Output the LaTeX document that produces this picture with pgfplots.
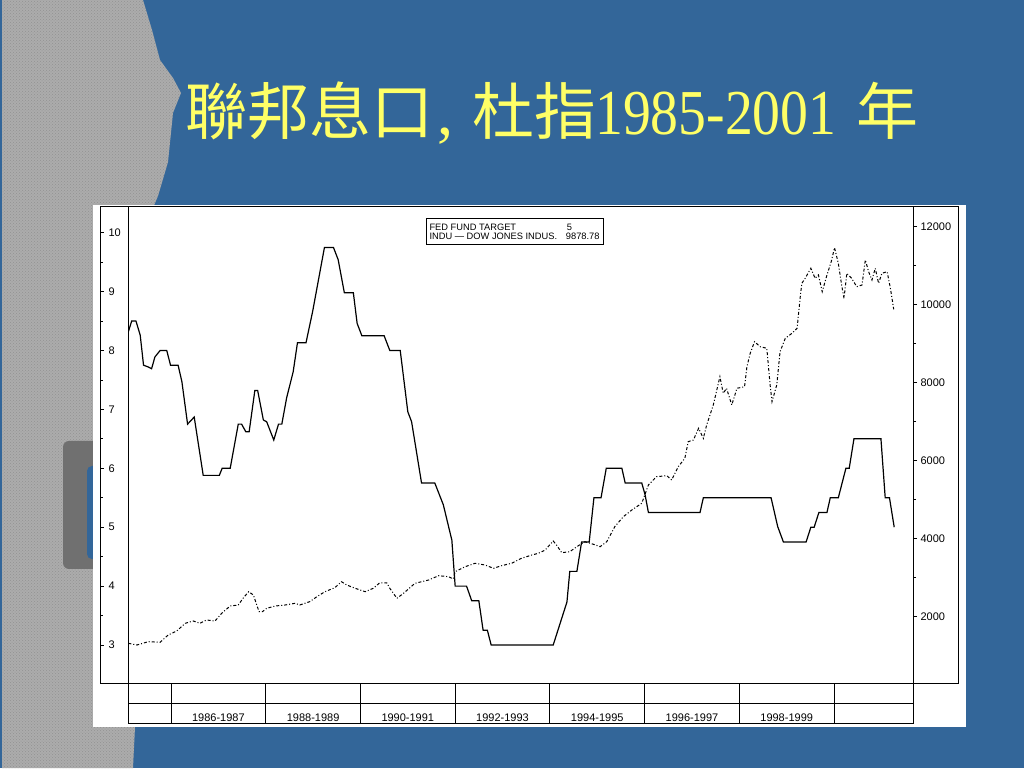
\documentclass[border=0pt]{standalone}
\usepackage{pgfplots}
\pgfplotsset{compat=1.18}
\usepackage{pgfplotstable}
\usetikzlibrary{patterns}
\usepackage{fontspec}
\setmainfont{Liberation Sans}
\newfontfamily\cjk{Noto Sans CJK TC}
\newfontfamily\titleserif{Liberation Serif}
\definecolor{slidebg}{RGB}{51,102,153}
\definecolor{titleyellow}{RGB}{255,255,102}
\definecolor{granite}{RGB}{172,172,172}
\definecolor{granitedark}{RGB}{112,112,112}

% fed fund target (percent), by year
\pgfplotstableread{
t v
1985.10 8.32
1985.17 8.50
1985.26 8.50
1985.35 8.26
1985.42 7.75
1985.52 7.72
1985.59 7.69
1985.66 7.89
1985.77 8.00
1985.91 8.00
1985.99 7.75
1986.15 7.75
1986.23 7.47
1986.35 6.75
1986.49 6.87
1986.68 5.88
1987.02 5.88
1987.08 6.00
1987.25 6.00
1987.42 6.75
1987.49 6.75
1987.58 6.62
1987.65 6.62
1987.77 7.32
1987.83 7.32
1987.95 6.82
1988.02 6.79
1988.17 6.48
1988.27 6.75
1988.34 6.75
1988.44 7.19
1988.58 7.64
1988.67 8.13
1988.85 8.13
1988.99 8.66
1989.24 9.75
1989.43 9.75
1989.53 9.54
1989.66 8.98
1989.85 8.98
1989.93 8.46
1990.03 8.25
1990.50 8.25
1990.62 8.00
1990.84 8.00
1991.00 6.96
1991.08 6.79
1991.29 5.75
1991.57 5.75
1991.75 5.38
1991.93 4.78
1992.00 4.00
1992.24 4.00
1992.35 3.75
1992.50 3.75
1992.59 3.25
1992.68 3.25
1992.76 3.00
1994.07 3.00
1994.36 3.73
1994.42 4.25
1994.57 4.25
1994.67 4.75
1994.83 4.75
1994.93 5.50
1995.08 5.50
1995.19 6.00
1995.52 6.00
1995.59 5.75
1995.94 5.75
1996.01 5.55
1996.08 5.25
1997.17 5.25
1997.24 5.50
1998.67 5.50
1998.81 5.01
1998.93 4.75
1999.41 4.75
1999.51 5.00
1999.58 5.00
1999.68 5.25
1999.85 5.25
1999.92 5.50
2000.09 5.50
2000.25 6.00
2000.32 6.00
2000.42 6.50
2000.99 6.50
2001.08 5.50
2001.17 5.50
2001.27 5.00
}\fedfund

% dow jones industrials
\pgfplotstableread{
t v
1985.10 1318
1985.28 1274
1985.52 1359
1985.77 1344
1985.94 1531
1986.12 1633
1986.30 1831
1986.47 1890
1986.61 1831
1986.75 1915
1986.93 1890
1987.07 2087
1987.25 2274
1987.42 2300
1987.53 2487
1987.64 2641
1987.74 2556
1987.81 2300
1987.86 2128
1987.93 2128
1988.02 2215
1988.20 2274
1988.41 2300
1988.62 2344
1988.72 2300
1988.93 2385
1989.08 2513
1989.25 2641
1989.46 2744
1989.60 2897
1989.71 2813
1989.89 2728
1990.10 2641
1990.27 2728
1990.41 2872
1990.56 2864
1990.62 2728
1990.77 2472
1990.91 2600
1991.15 2856
1991.44 2941
1991.65 3051
1991.86 3026
1991.96 2967
1992.00 3154
1992.21 3282
1992.42 3369
1992.63 3326
1992.81 3241
1992.98 3308
1993.19 3369
1993.40 3497
1993.62 3582
1993.76 3626
1993.90 3710
1994.07 3941
1994.14 3838
1994.25 3641
1994.42 3667
1994.60 3820
1994.74 3923
1994.92 3856
1995.06 3795
1995.20 3923
1995.37 4308
1995.55 4564
1995.73 4736
1995.94 4908
1996.08 5377
1996.25 5590
1996.47 5615
1996.57 5505
1996.71 5846
1996.85 6061
1996.92 6487
1997.03 6531
1997.14 6831
1997.24 6574
1997.31 6915
1997.45 7428
1997.59 8154
1997.66 7728
1997.73 7856
1997.84 7428
1997.95 7856
1998.11 7897
1998.16 8410
1998.23 8754
1998.32 9051
1998.44 8923
1998.58 8882
1998.65 7941
1998.69 7513
1998.79 7941
1998.86 8795
1998.97 9138
1999.11 9266
1999.22 9395
1999.29 10248
1999.32 10548
1999.39 10677
1999.51 10933
1999.60 10677
1999.67 10761
1999.75 10333
1999.85 10761
1999.94 11102
2000.01 11461
2000.09 11061
2000.16 10505
2000.21 10164
2000.27 10805
2000.37 10677
2000.48 10461
2000.59 10505
2000.66 11146
2000.73 10846
2000.80 10633
2000.87 10933
2000.94 10548
2001.01 10805
2001.12 10846
2001.19 10420
2001.26 9879
}\dowjones

\pgfplotsset{
  panel/.style={
    at={(128pt,85pt)}, anchor=south west, scale only axis,
    width=785pt, height=476pt,
    xmin=1985.092, xmax=2001.667,
    axis line style={line width=1pt},
    every tick/.style={black, line width=0.8pt},
    tick label style={font=\fontsize{11}{13}\selectfont},
  },
}

\begin{document}
\begin{tikzpicture}[x=1pt,y=1pt]
\useasboundingbox (0,0) rectangle (1024,768);
\fill[slidebg] (0,0) rectangle (1024,768);
% granite strip on the left
\def\graniteshape{(2,768) -- (143,768) -- (152,738) -- (160,708) -- (173,690)
  -- (181,675) -- (173,655) -- (168,606) -- (158,572) -- (150,553)
  -- (120,400) -- (120,60) -- (135,41) -- (133,0) -- (2,0) -- cycle}
\fill[granite] \graniteshape;
\fill[pattern=crosshatch dots, pattern color=black!55, opacity=0.45] \graniteshape;
\fill[granitedark, rounded corners=6pt] (63,199) rectangle (100,327);
\fill[slidebg, rounded corners=5pt] (87,209) rectangle (100,302);
\fill[white] (93,41) rectangle (966,563);

% title
\begin{scope}[titleyellow]
\node[anchor=base west, inner sep=0] at (185,633) {\cjk\fontsize{62}{62}\selectfont 聯邦息口};
\node[anchor=base west, inner sep=0] at (437,633) {\titleserif\fontsize{64}{64}\selectfont ,};
\node[anchor=base west, inner sep=0] at (472,633) {\cjk\fontsize{62}{62}\selectfont 杜指};
\node[anchor=base west, inner sep=0] at (595,633) {\scalebox{0.87}[1]{\titleserif\fontsize{64}{64}\selectfont 1985-2001}};
\node[anchor=base west, inner sep=0] at (856,633) {\cjk\fontsize{62}{62}\selectfont 年};
\end{scope}

% left scale panel
\begin{axis}[panel, at={(100pt,85pt)}, width=28pt, xmin=0, xmax=1,
  ymin=2.355, ymax=10.436,
  axis x line=none, axis y line*=left,
  ytick={3,...,10}, yticklabels={3,4,5,6,7,8,9,10},
  minor ytick={3.5,4.5,...,9.5},
  tick align=inside, major tick length=4pt, minor tick length=3pt,
  yticklabel style={anchor=west, xshift=5pt},
]
\end{axis}

% fed fund target
\begin{axis}[panel,
  ymin=2.355, ymax=10.436,
  ytick=\empty,
  xtick={1987,1989,...,1999},
  xticklabels={1986-1987,1988-1989,1990-1991,1992-1993,1994-1995,1996-1997,1998-1999},
  xtick pos=left,
  major x tick style={draw=none},
  xticklabel style={anchor=base, yshift=-38.5pt},
  extra x ticks={1986,1988,...,2000},
  extra x tick labels={},
  extra x tick style={major tick length=40pt, tick align=outside,
    major x tick style={draw=black, line width=1pt}},
]
\addplot[black, line width=1.2pt] table[x=t, y=v] {\fedfund};
\end{axis}

% dow jones
\begin{axis}[panel,
  ymin=300, ymax=12505,
  scaled y ticks=false,
  axis x line=none, axis y line*=right,
  ytick={2000,4000,...,12000},
  yticklabels={2000,4000,6000,8000,10000,12000},
  minor ytick={3000,5000,...,11000},
  tick align=outside, major tick length=4pt, minor tick length=3pt,
  yticklabel style={anchor=west},
]
\addplot[black, line width=1pt, dash pattern=on 3pt off 2pt on 1pt off 2pt]
  table[x=t, y=v] {\dowjones};
\end{axis}

% frame and date table
\draw[line width=1pt] (100,85) -- (100,561) -- (958,561) -- (958,85) -- (913,85);
\draw[line width=1pt] (100,85) -- (128,85);
\draw[line width=1pt] (128,85) -- (128,45) -- (913,45) -- (913,85);
\draw[line width=1pt] (128,65) -- (913,65);

% legend
\draw[line width=0.8pt] (426.7,523.7) rectangle (603.3,549.7);
\begin{scope}[every node/.style={anchor=base west, inner sep=0, font=\fontsize{9.3}{10}\selectfont}]
\node at (429.3,537.3) {FED FUND TARGET};
\node at (429.3,528.7) {INDU --- DOW JONES INDUS.};
\node at (566.7,537.3) {5};
\node at (565.7,528.7) {9878.78};
\end{scope}
\end{tikzpicture}
\end{document}
